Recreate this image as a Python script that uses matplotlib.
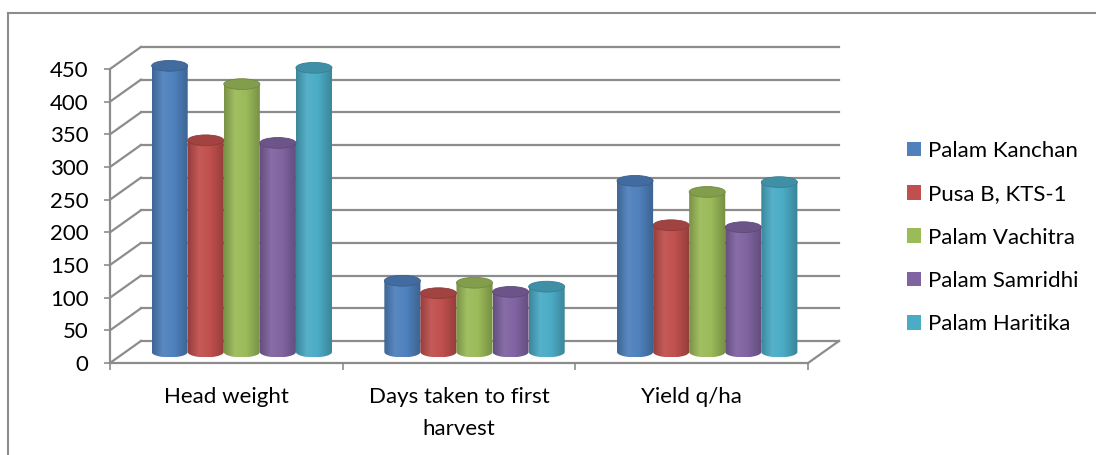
import numpy as np
import matplotlib
matplotlib.use("Agg")
import matplotlib.pyplot as plt
from matplotlib.patches import Ellipse, Polygon, Patch
from matplotlib.colors import LinearSegmentedColormap, to_rgb
from matplotlib.lines import Line2D

plt.rcParams['font.family'] = ['Lato', 'DejaVu Sans']

categories = ["Head weight", "Days taken to first\nharvest", "Yield q/ha"]
varieties = ["Palam Kanchan", "Pusa B, KTS-1", "Palam Vachitra", "Palam Samridhi", "Palam Haritika"]
head_weight = [438, 324, 410, 320, 435]
days_to_harvest = [109, 90, 106, 92, 100]
yield_qha = [262, 194, 245, 191, 260]
colors = ["#4F81BD", "#C0504D", "#9BBB59", "#8064A2", "#4BACC6"]
yticks = list(range(0, 451, 50))

series = np.array([head_weight, days_to_harvest, yield_qha]).T  # variety x category

# pseudo 3d geometry (data units)
dx = 0.133      # depth shift in category units
dy = 33.7       # depth shift in value units
w = 0.155       # bar width
eh = 16.5       # ellipse height
grid_c = "#8c8c8c"

fig = plt.figure(figsize=(10.96, 4.55), dpi=100)
ax = fig.add_axes([0.10036, 0.1735, 0.6794, 0.7323])
ax.set_xlim(-0.5, 2.7)
ax.set_ylim(-20, 490)

# back wall and side wall
for v in yticks:
    ax.plot([-0.5 + dx, 2.5 + dx], [v + dy, v + dy], color=grid_c, lw=1.6, zorder=1)
    ax.plot([-0.5, -0.5 + dx], [v, v + dy], color=grid_c, lw=1.6, zorder=1)
ax.plot([2.5, 2.5 + dx], [0, dy], color=grid_c, lw=1.6, zorder=1)


def shade(c, f):
    r = np.array(to_rgb(c))
    if f < 1:
        return tuple(r * f)
    return tuple(r + (1 - r) * (f - 1))


base = dy / 2
t = np.linspace(np.pi, 2 * np.pi, 40)
grad = np.linspace(0, 1, 256).reshape(1, -1)
z = 2
for i, name in enumerate(varieties):
    for j in range(len(categories)):
        val = series[i, j]
        xc = j + (i - 2) * w + dx / 2
        top = val + base
        x0, x1 = xc - w / 2, xc + w / 2
        arc_x = xc + np.cos(t) * w / 2
        arc_y = base + np.sin(t) * eh / 2
        pts = np.vstack([np.column_stack([arc_x, arc_y]), [[x1, top], [x0, top]]])
        body = Polygon(pts, closed=True, facecolor="none", edgecolor="none", zorder=z)
        ax.add_patch(body)
        cmap = LinearSegmentedColormap.from_list(
            "c%d" % i,
            [(0, shade(colors[i], 0.78)), (0.3, shade(colors[i], 1.06)),
             (0.6, shade(colors[i], 1.0)), (1, shade(colors[i], 0.76))])
        im = ax.imshow(grad, cmap=cmap, extent=(x0, x1, base - eh / 2, top),
                       aspect="auto", zorder=z, interpolation="bilinear")
        im.set_clip_path(body)
        ax.add_patch(Ellipse((xc, top), w, eh, facecolor=shade(colors[i], 0.84),
                             edgecolor=shade(colors[i], 0.74), lw=0.6, zorder=z + 0.1))
        z += 0.01

# front axes
for s in ["top", "right"]:
    ax.spines[s].set_visible(False)
ax.spines["left"].set_bounds(0, 450)
ax.spines["left"].set_color(grid_c)
ax.spines["left"].set_linewidth(1.6)
ax.spines["bottom"].set_position(("data", 0))
ax.spines["bottom"].set_bounds(-0.5, 2.5)
ax.spines["bottom"].set_color(grid_c)
ax.spines["bottom"].set_linewidth(1.6)
ax.spines["bottom"].set_zorder(5)

ax.set_yticks(yticks)
ax.set_yticklabels([str(v) for v in yticks])
ax.tick_params(axis="y", direction="out", length=4.5, width=1.2, color=grid_c,
               pad=11, labelsize=16, labelcolor="black")
ax.set_xticks([-0.5, 0.5, 1.5, 2.5])
ax.set_xticklabels([])
ax.set_xticks([0, 1, 2], minor=True)
ax.set_xticklabels(categories, minor=True, linespacing=1.75)
ax.tick_params(axis="x", which="major", direction="out", length=5, width=1.2, color=grid_c)
ax.tick_params(axis="x", which="minor", length=0, pad=17, labelsize=16, labelcolor="black")
ax.set_facecolor("none")

handles = [Patch(facecolor=c, edgecolor="none") for c in colors]
fig.legend(handles, varieties, loc="center left", bbox_to_anchor=(0.8276, 0.478),
           frameon=False, fontsize=16, handlelength=0.63, handleheight=0.63,
           handletextpad=0.33, labelspacing=1.05, borderpad=0, borderaxespad=0)

# chart border
fig.add_artist(Line2D([8 / 1096, 8 / 1096], [0, 1 - 13 / 455], color="#8c8c8c", lw=1.5))
fig.add_artist(Line2D([8 / 1096, 1], [1 - 13 / 455, 1 - 13 / 455], color="#8c8c8c", lw=1.5))

fig.savefig("out.png", dpi=100)
